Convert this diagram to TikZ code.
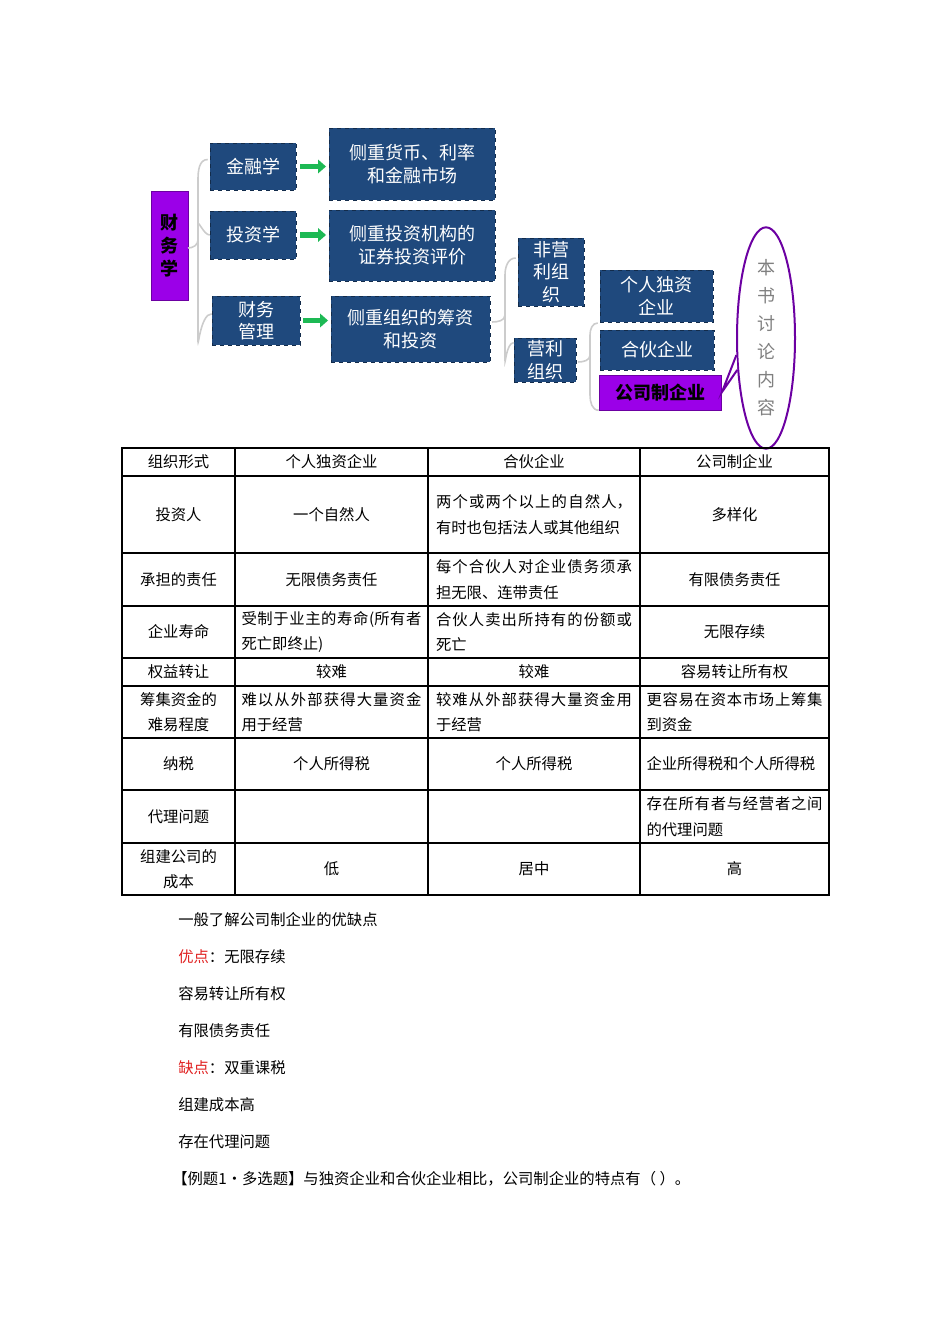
\documentclass[tikz,border=0pt]{standalone}
\usepackage{fontspec}
\setmainfont{Liberation Serif}
\newfontfamily\cjk{Noto Sans CJK SC}
\XeTeXlinebreaklocale "zh"
\XeTeXlinebreakskip=0pt plus 1pt
\usetikzlibrary{shapes.geometric,arrows.meta}
\definecolor{nav}{HTML}{1F497D}
\definecolor{pur}{HTML}{9B00E8}
\definecolor{grn}{HTML}{1DB954}
\definecolor{red1}{HTML}{E02020}
\tikzset{
 bb/.style={fill=nav,draw=nav!60!black,dashed,text=white,font=\cjk\fontsize{13.5}{17}\selectfont,align=center,inner sep=0pt},
 pb/.style={fill=pur,draw=pur!70!black,text=black,font=\cjk\bfseries\fontsize{13.5}{17}\selectfont,align=center,inner sep=0pt},
 ga/.style={draw=grn,line width=4pt,-{Triangle[length=6pt,width=10pt]}},
 br/.style={draw=gray!40,line width=1.2pt},
 cell/.style={font=\cjk\fontsize{11.5}{19}\selectfont,align=center,inner sep=0pt},
 jc/.style={font=\cjk\fontsize{11.5}{19}\selectfont,align=justify,inner sep=0pt},
 tx/.style={font=\cjk\fontsize{11.5}{14}\selectfont,anchor=west,inner sep=0pt}
}
\begin{document}
\begin{tikzpicture}[x=0.75pt,y=-0.75pt]
\useasboundingbox (0,0) rectangle (950,1344);
% diagram
\node[pb,minimum width=37*0.75pt,minimum height=109*0.75pt] (cw) at (169.5,245.5) {财\\务\\学};
\node[bb,minimum width=86*0.75pt,minimum height=47*0.75pt] (jr) at (253,166.5) {金融学};
\node[bb,minimum width=166*0.75pt,minimum height=72*0.75pt] (jr2) at (412,164) {侧重货币、利率\\和金融市场};
\node[bb,minimum width=86*0.75pt,minimum height=48*0.75pt] (tz) at (253,235) {投资学};
\node[bb,minimum width=166*0.75pt,minimum height=71*0.75pt] (tz2) at (412,245.5) {侧重投资机构的\\证券投资评价};
\node[bb,minimum width=88*0.75pt,minimum height=49*0.75pt] (gl) at (256,320.5) {财务\\管理};
\node[bb,minimum width=159*0.75pt,minimum height=66*0.75pt] (gl2) at (410.5,329) {侧重组织的筹资\\和投资};
\node[bb,minimum width=66*0.75pt,minimum height=68*0.75pt] (fy) at (551,272) {非营\\利组\\织};
\node[bb,minimum width=62*0.75pt,minimum height=44*0.75pt] (yl) at (545,360) {营利\\组织};
\node[bb,minimum width=113*0.75pt,minimum height=52*0.75pt] (gr) at (656.5,296) {个人独资\\企业};
\node[bb,minimum width=114*0.75pt,minimum height=40*0.75pt] (hh) at (657,350) {合伙企业};
\node[pb,minimum width=122*0.75pt,minimum height=35*0.75pt] (gs) at (660,392.5) {公司制企业};
\node[ellipse,draw=pur!70!black,line width=1.5pt,fill=white,minimum width=58*0.75pt,minimum height=165*0.75pt,align=center,text=gray,font=\cjk\fontsize{13.5}{21}\selectfont,inner sep=0pt] (bs) at (766,338) {本\\书\\讨\\论\\内\\容};
\coordinate (bt) at (722,392);
\draw[draw=pur!70!black,line width=1.5pt,fill=white] (bs.210) -- (bt) -- (bs.228);
\draw[ga] (jr.east)++(4,0) -- ([xshift=-2]jr2.west|-jr.east);
\draw[ga] (tz.east)++(4,0) -- ([xshift=-2]tz2.west|-tz.east);
\draw[ga] (gl.east)++(3,0) -- ([xshift=-2]gl2.west|-gl.east);
\draw[br] (jr.west) ++(-2,-7) to[out=180,in=90] (198,180) -- (198,240) to[out=-90,in=0] (188,248);
\draw[br] (198,240) -- (198,340) to[out=-90,in=180] ([yshift=5]gl.west);
\draw[br] (198,225) to[out=90,in=180] (tz.west);
\draw[br] (fy.west) ++(-2,-14) to[out=180,in=90] (505,275) -- (505,315) to[out=-90,in=0] (492,322);
\draw[br] (505,315) -- (505,360) to[out=-90,in=180] ([yshift=13]yl.west);
\draw[br] (gr.west) ++(-2,27) to[out=180,in=90] (590,335) -- (590,355) to[out=-90,in=0] (578,362);
\draw[br] (590,355) -- (590,395) to[out=-90,in=180] (gs.south west);
% table
\draw[line width=0.9pt] (122,448) rectangle (829,895);
\foreach \y in {476,553,606,658,686,738,790,843} \draw[line width=0.8pt] (122,\y) -- (829,\y);
\foreach \x in {235,428,640} \draw[line width=0.8pt] (\x,448) -- (\x,895);
\newcommand\cc[3]{\node[cell] at (#1,#2) {#3};}
\newcommand\jj[3]{\node[jc,text width=196*0.75pt] at (#1,#2) {#3};}
\cc{178.5}{462}{组织形式}\cc{331.5}{462}{个人独资企业}\cc{534}{462}{合伙企业}\cc{734.5}{462}{公司制企业}
\cc{178.5}{514.5}{投资人}\cc{331.5}{514.5}{一个自然人}\jj{534}{514.5}{两个或两个以上的自然人，有时也包括法人或其他组织}\cc{734.5}{514.5}{多样化}
\cc{178.5}{579.5}{承担的责任}\cc{331.5}{579.5}{无限债务责任}\jj{534}{579.5}{每个合伙人对企业债务须承担无限、连带责任}\cc{734.5}{579.5}{有限债务责任}
\cc{178.5}{632}{企业寿命}\node[jc,text width=180*0.75pt] at (331.5,632) {受制于业主的寿命(所有者死亡即终止)};\jj{534}{632}{合伙人卖出所持有的份额或死亡}\cc{734.5}{632}{无限存续}
\cc{178.5}{672}{权益转让}\cc{331.5}{672}{较难}\cc{534}{672}{较难}\cc{734.5}{672}{容易转让所有权}
\cc{178.5}{712}{筹集资金的\\难易程度}\node[jc,text width=180*0.75pt] at (331.5,712) {难以从外部获得大量资金用于经营};\jj{534}{712}{较难从外部获得大量资金用于经营}\node[jc,text width=176*0.75pt] at (734.5,712) {更容易在资本市场上筹集到资金};
\cc{178.5}{764}{纳税}\cc{331.5}{764}{个人所得税}\cc{534}{764}{个人所得税}\node[jc,text width=176*0.75pt] at (734.5,764) {企业所得税和个人所得税};
\cc{178.5}{816.5}{代理问题}\node[jc,text width=176*0.75pt] at (734.5,816.5) {存在所有者与经营者之间的代理问题};
\cc{178.5}{869}{组建公司的\\成本}\cc{331.5}{869}{低}\cc{534}{869}{居中}\cc{734.5}{869}{高}
% text
\node[tx] (t1) at (178,920) {一般了解公司制企业的优缺点};
\node[tx] (t2) at (178,957) {\textcolor{red1}{优点}：无限存续};
\node[tx] (t3) at (178,994) {容易转让所有权};
\node[tx] (t4) at (178,1031) {有限债务责任};
\node[tx] (t5) at (178,1068) {\textcolor{red1}{缺点}：双重课税};
\node[tx] (t6) at (178,1105) {组建成本高};
\node[tx] (t7) at (178,1142) {存在代理问题};
\node[tx] (t8) at (172,1179) {【例题1·多选题】与独资企业和合伙企业相比，公司制企业的特点有（ ）。};
\end{tikzpicture}
\end{document}
